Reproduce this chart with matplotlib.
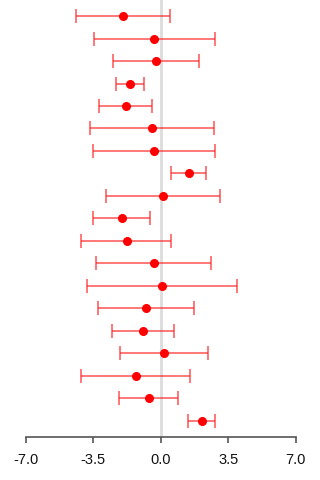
import matplotlib
matplotlib.use("Agg")
import matplotlib.pyplot as plt
import numpy as np

estimate = [-1.97, -0.35, -0.26, -1.61, -1.83, -0.45, -0.36, 1.44, 0.12, -2.02,
            -1.78, -0.38, 0.07, -0.78, -0.93, 0.17, -1.30, -0.64, 2.13]
lower = [-4.38, -3.46, -2.48, -2.35, -3.22, -3.69, -3.51, 0.52, -2.84, -3.51,
         -4.12, -3.36, -3.82, -3.27, -2.51, -2.11, -4.12, -2.18, 1.42]
upper = [0.45, 2.80, 1.97, -0.87, -0.45, 2.77, 2.80, 2.35, 3.08, -0.55,
         0.54, 2.58, 3.95, 1.70, 0.66, 2.46, 1.52, 0.90, 2.82]
xticks = [-7.0, -3.5, 0.0, 3.5, 7.0]
xticklabels = ["-7.0", "-3.5", "0.0", "3.5", "7.0"]

plt.rcParams['font.family'] = ['Liberation Sans', 'DejaVu Sans']

W, H = 320, 480
fig = plt.figure(figsize=(W / 100, H / 100), dpi=100)
# axes box in pixel coordinates: x from -7 to 7 spans 26..295.7 px
left_px, right_px = 26.0, 295.7
top_px, bottom_px = 0.0, 436.7
ax = fig.add_axes([left_px / W, 1 - bottom_px / H,
                   (right_px - left_px) / W, (bottom_px - top_px) / H])

n = len(estimate)
rows = np.arange(1, n + 1)
pad = 0.04 * (n - 1)
ax.set_ylim(n + pad, 1 - pad)
ax.set_xlim(-7, 7)

ax.axvline(0, color="#dcdcdc", lw=2, zorder=1)

est = np.array(estimate)
lo = np.array(lower)
hi = np.array(upper)
ax.errorbar(est, rows, xerr=[est - lo, hi - est], fmt="none",
            ecolor=(1, 0.1, 0.1, 0.75), elinewidth=1.1, capsize=5,
            capthick=1.1, zorder=2)
ax.plot(est, rows, "o", color="#ff0000", ms=5.5, mec="#ff0000", zorder=3)

for s in ["top", "right", "left"]:
    ax.spines[s].set_visible(False)
ax.spines["bottom"].set_color("#555555")
ax.spines["bottom"].set_linewidth(1.2)
ax.set_yticks([])
ax.set_xticks(xticks)
ax.set_xticklabels(xticklabels, fontsize=10.5)
ax.tick_params(axis="x", direction="out", length=4, width=1.2,
               color="#555555", pad=8, labelcolor="#111111")

fig.savefig("out.png", dpi=100)
